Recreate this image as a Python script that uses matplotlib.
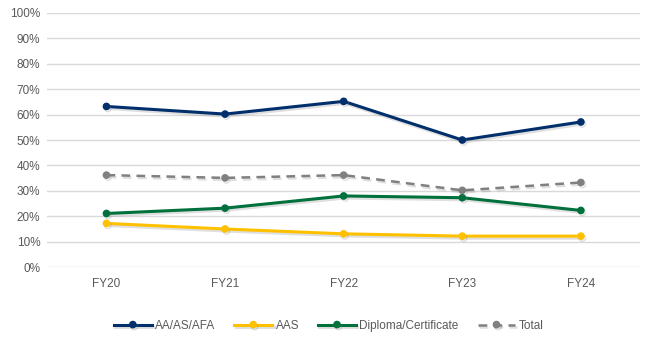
import matplotlib.pyplot as plt
import matplotlib.patheffects as pe
from matplotlib.ticker import PercentFormatter

years = ['FY20', 'FY21', 'FY22', 'FY23', 'FY24']
aa_as_afa = [63.2, 60.2, 65.2, 50.0, 57.1]
aas = [17.2, 15.0, 13.1, 12.2, 12.2]
diploma = [21.1, 23.2, 28.0, 27.3, 22.3]
total = [36.2, 35.1, 36.2, 30.2, 33.3]

plt.rcParams['font.family'] = ['Liberation Sans', 'DejaVu Sans']

fig = plt.figure(figsize=(6.46, 3.39), dpi=100)
ax = fig.add_axes([0.073, 0.212, 0.918, 0.75])

shadow = [pe.SimpleLineShadow(offset=(1, -1.5), shadow_color='gray', alpha=0.25), pe.Normal()]

series = [
    ('AA/AS/AFA', aa_as_afa, '#002F6C', '-'),
    ('AAS', aas, '#FFC000', '-'),
    ('Diploma/Certificate', diploma, '#00703C', '-'),
    ('Total', total, '#808080', '--'),
]

x = range(len(years))
for name, vals, color, ls in series:
    ax.plot(x, vals, color=color, linestyle=ls, linewidth=2.2 if ls == '-' else 1.8,
            marker='o', markersize=4.5, label=name, path_effects=shadow,
            dashes=(3.5, 2.5) if ls == '--' else (None, None))

ax.set_xlim(-0.5, len(years) - 0.5)
ax.set_ylim(0, 100)
ax.set_yticks(range(0, 101, 10))
ax.yaxis.set_major_formatter(PercentFormatter(decimals=0))
ax.set_xticks(list(x))
ax.set_xticklabels(years)
ax.grid(axis='y', color='#D9D9D9', linewidth=1)
ax.set_axisbelow(True)
for s in ax.spines.values():
    s.set_visible(False)
ax.tick_params(length=0, labelsize=8.5, colors='#595959', pad=8)
ax.tick_params(axis='y', pad=5)

ax.legend(loc='upper center', bbox_to_anchor=(0.475, -0.165), ncol=4, frameon=False,
          fontsize=8.5, labelcolor='#595959', handlelength=3.2, columnspacing=1.6,
          handletextpad=0.3)

fig.savefig('out.png', dpi=100)
